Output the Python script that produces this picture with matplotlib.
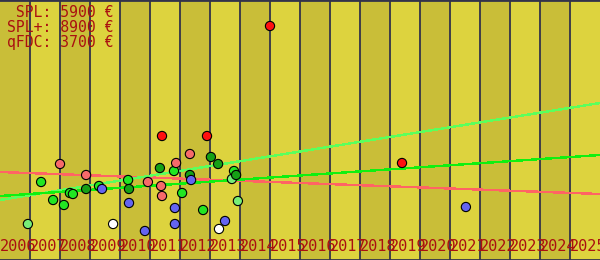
import matplotlib
matplotlib.use("Agg")
import matplotlib.pyplot as plt

# ---- data ----
years = list(range(2006, 2026))
year_labels = [str(y) for y in years]

legend_lines = [" SPL: 5900 €", "SPL+: 8900 €", "qFDC: 3700 €"]

point_year = [2007.37, 2008.00, 2006.93, 2007.77, 2008.13, 2008.33, 2008.43, 2008.87,
              2008.87, 2009.30, 2009.40, 2009.77, 2010.27, 2010.30, 2010.30, 2010.83,
              2010.93, 2011.33, 2011.40, 2011.37, 2011.40, 2011.80, 2011.87, 2011.83,
              2011.83, 2012.07, 2012.33, 2012.33, 2012.37, 2012.77, 2012.90, 2013.03,
              2013.27, 2013.30, 2013.50, 2013.73, 2013.80, 2013.87, 2013.93, 2015.00,
              2019.40, 2021.53]
point_price = [3900, 4800, 1800, 3000, 2750, 3350, 3300, 4250,
               3550, 3700, 3550, 1800, 4000, 3550, 2850, 1450,
               3900, 4600, 6200, 3700, 3200, 4450, 4850, 2600,
               1800, 3350, 5300, 4250, 4000, 2500, 6200, 5150,
               4800, 1550, 1950, 4050, 4450, 4250, 2950, 11700,
               4850, 2650]
point_kind = ["green", "salmon", "lightgreen", "green", "green", "green", "green", "salmon",
              "darkgreen", "green", "blue", "white", "green", "darkgreen", "blue", "blue",
              "salmon", "darkgreen", "red", "salmon", "salmon", "green", "salmon", "blue",
              "blue", "green", "salmon", "darkgreen", "blue", "green", "red", "darkgreen",
              "darkgreen", "white", "blue", "lightgreen", "green", "darkgreen", "lightgreen", "red",
              "red", "blue"]

trend_years = [2006, 2026]
trend_salmon = [4400, 3300]
trend_green = [3200, 5250]
trend_lightgreen = [3000, 7850]

# ---- style ----
kind_colors = {
    "red": "#ff1010",
    "salmon": "#f66a6a",
    "green": "#22e622",
    "darkgreen": "#16a016",
    "lightgreen": "#77ee77",
    "blue": "#6464f0",
    "white": "#ffffff",
}
band_dark = "#c9be38"
band_light = "#ddd33e"
grid_col = "#33334a"
text_col = "#aa1010"

fig = plt.figure(figsize=(6, 2.6), dpi=100)
ax = fig.add_axes([0, 0, 1, 1])
ax.set_xlim(2006, 2026)
ax.set_ylim(0, 13000)

for i, y in enumerate(years):
    ax.axvspan(y, y + 1, color=band_dark if i % 2 == 0 else band_light, lw=0, zorder=0)
for y in years[1:]:
    ax.axvline(y, color=grid_col, lw=1.3, zorder=1)

ax.plot(trend_years, trend_salmon, color="#ff6464", lw=1.0, antialiased=False, zorder=2)
ax.plot(trend_years, trend_lightgreen, color="#5cff5c", lw=1.0, antialiased=False, zorder=2)
ax.plot(trend_years, trend_green, color="#10f010", lw=1.0, antialiased=False, zorder=2)

cols = [kind_colors[k] for k in point_kind]
ax.scatter(point_year, point_price, s=44, c=cols, edgecolors="black", linewidths=0.8, zorder=3)

for y, lab in zip(years, year_labels):
    ax.text(y, 0.035, lab, transform=ax.get_xaxis_transform(), ha="left", va="baseline",
            fontsize=11, family="DejaVu Sans Mono", color=text_col, zorder=4)

for i, line in enumerate(legend_lines):
    ax.text(7 / 600, 1 - (17 + 15 * i) / 260, line, transform=ax.transAxes,
            ha="left", va="baseline", fontsize=10.6, family="DejaVu Sans Mono",
            color=text_col, zorder=4)

ax.set_xticks([])
ax.set_yticks([])
for side in ("left", "right"):
    ax.spines[side].set_visible(False)
for side in ("top", "bottom"):
    ax.spines[side].set_color(grid_col)
    ax.spines[side].set_linewidth(2)

fig.savefig("out.png", dpi=100)
